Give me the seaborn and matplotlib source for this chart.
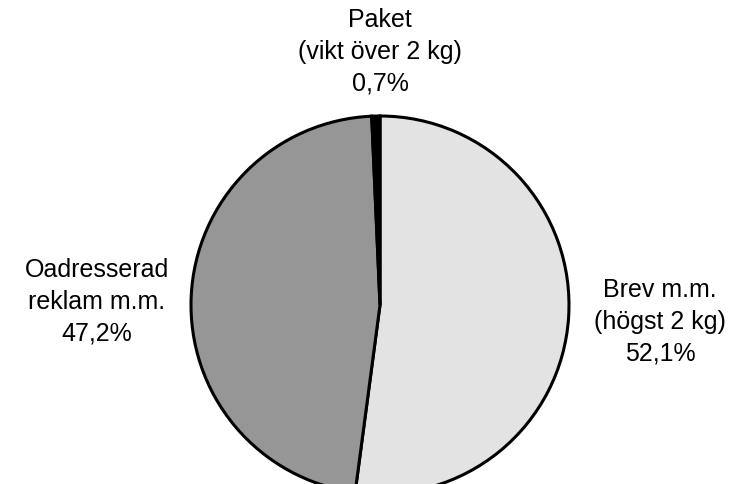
import matplotlib
matplotlib.use("Agg")
import matplotlib.pyplot as plt
import seaborn as sns

# ------------------------------
# Data
# ------------------------------
labels = ["Brev m.m.\n(högst 2 kg)\n52,1%",
          "Oadresserad\nreklam m.m.\n47,2%",
          "Paket\n(vikt över 2 kg)\n0,7%"]
shares = [52.1, 47.2, 0.7]
colors = ["#e3e3e3", "#969696", "#000000"]

sns.set_theme(style="white")
plt.rcParams['font.family'] = ['Liberation Sans', 'DejaVu Sans']

fig = plt.figure(figsize=(7.37, 4.85), dpi=100)
ax = fig.add_axes([0, 0, 1, 1])

ax.pie(shares, colors=colors, startangle=90, counterclock=False,
       center=(380, 179), radius=189,
       wedgeprops=dict(edgecolor="black", linewidth=2.2))

# label positions (pixels, y up)
label_pos = [(660, 163), (97, 183), (380, 433)]
for txt, (x, y) in zip(labels, label_pos):
    ax.text(x, y, txt, ha="center", va="center", fontsize=18,
            linespacing=1.42, color="black")

ax.set_xlim(0, 737)
ax.set_ylim(0, 485)
ax.set_aspect("equal")
ax.axis("off")
fig.savefig("out.png", dpi=100)
